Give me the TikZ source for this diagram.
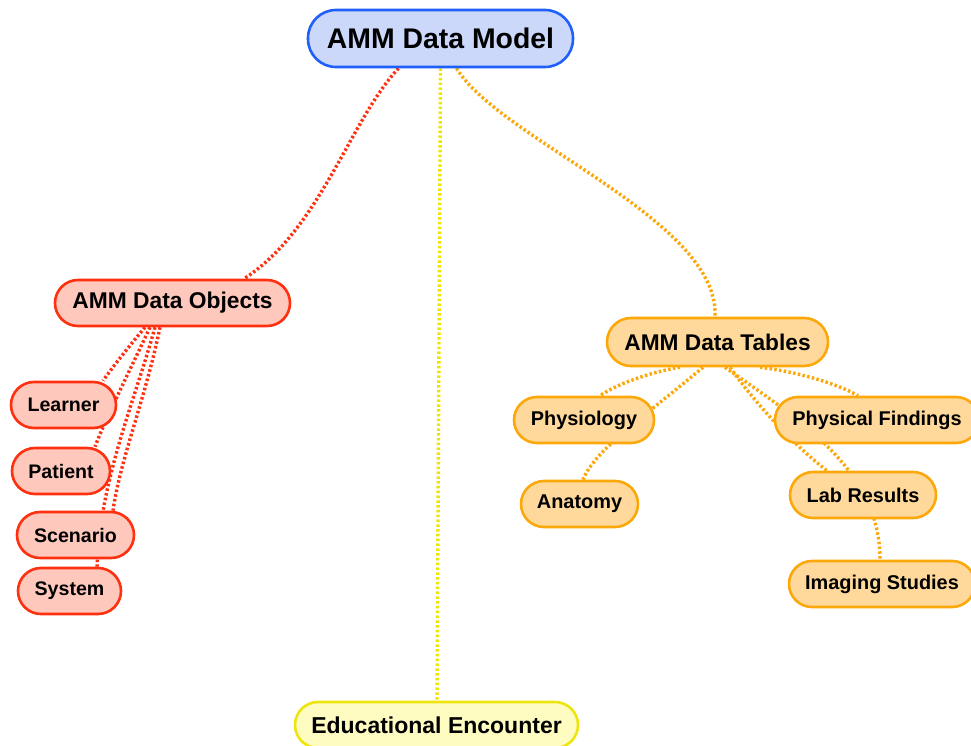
\documentclass[tikz,border=0pt]{standalone}
\usepackage{fontspec}
\setmainfont{Liberation Sans}
\usetikzlibrary{backgrounds}
\definecolor{bluebd}{HTML}{1F5FFA}
\definecolor{bluefl}{HTML}{CBD8FA}
\definecolor{redbd}{HTML}{FF3010}
\definecolor{redfl}{HTML}{FFC8BC}
\definecolor{orabd}{HTML}{FCA80A}
\definecolor{orafl}{HTML}{FFD99B}
\definecolor{yelbd}{HTML}{EEE40E}
\definecolor{yelfl}{HTML}{FFFCC2}
\definecolor{yelln}{HTML}{EEE600}
\tikzset{
  pill/.style={draw, line width=2.6pt, rounded corners=#1, inner sep=0pt, font=\bfseries},
  toppill/.style={pill=28pt, draw=bluebd, fill=bluefl, minimum height=57pt, font=\bfseries\fontsize{28.4}{30}\selectfont},
  redbig/.style={pill=23pt, draw=redbd, fill=redfl, minimum height=46pt, font=\bfseries\fontsize{22.8}{26}\selectfont},
  redsm/.style={pill=23pt, draw=redbd, fill=redfl, minimum height=46pt, font=\bfseries\fontsize{19.6}{22}\selectfont},
  orabig/.style={pill=24pt, draw=orabd, fill=orafl, minimum height=48pt, font=\bfseries\fontsize{22.7}{26}\selectfont},
  orasm/.style={pill=23pt, draw=orabd, fill=orafl, minimum height=46pt, font=\bfseries\fontsize{19.9}{22}\selectfont},
  yelbig/.style={pill=23pt, draw=yelbd, fill=yelfl, minimum height=46pt, font=\bfseries\fontsize{23}{26}\selectfont},
  link/.style={line width=3.4pt, dash pattern=on 2.5pt off 2.3pt},
  redlink/.style={link, draw=redbd},
  oralink/.style={link, draw=orabd},
  yellink/.style={link, draw=yelln},
}
\begin{document}
\begin{tikzpicture}[x=1pt,y=-1pt]
\useasboundingbox (0,0) rectangle (971,746);
\node[toppill, minimum width=265pt] (model) at (440.5,38.5) {AMM Data Model};
\node[redbig, minimum width=235pt] (objects) at (172.5,303) {AMM Data Objects};
\node[redsm, minimum width=105pt] (learner) at (63.5,405) {Learner};
\node[redsm, minimum width=98pt] (patient) at (61,471) {Patient};
\node[redsm, minimum width=117pt] (scenario) at (75.5,535) {Scenario};
\node[redsm, minimum width=103pt] (system) at (69.5,591) {System};
\node[orabig, minimum width=221pt] (tables) at (717.5,342) {AMM Data Tables};
\node[orasm, minimum width=140pt] (physio) at (584,420) {Physiology};
\node[orasm, minimum width=117pt] (anatomy) at (579.5,504) {Anatomy};
\node[orasm, minimum width=204pt] (physfind) at (877,420) {Physical Findings};
\node[orasm, minimum width=146pt] (lab) at (863,495) {Lab Results};
\node[orasm, minimum width=186pt] (imaging) at (882,584) {Imaging Studies};
\node[yelbig, minimum width=283pt] (edu) at (436.5,725) {Educational Encounter};
\begin{scope}[on background layer]
\draw[redlink] ([xshift=-42pt]model.south) .. controls (350,120) and (320,230) .. ([xshift=71.5pt]objects.north);
\draw[oralink] ([xshift=16pt]model.south) .. controls (500,140) and (720,220) .. ([xshift=-2.5pt]tables.north);
\draw[yellink] (model.south) -- ([xshift=0.5pt]edu.north);
\draw[redlink] ([xshift=-27.5pt]objects.south) .. controls (130,345) and (112,368) .. ([xshift=39.5pt]learner.north);
\draw[redlink] ([xshift=-22.5pt]objects.south) .. controls (130,370) and (105,420) .. ([xshift=34pt]patient.north);
\draw[redlink] ([xshift=-12.5pt]objects.south) .. controls (145,400) and (120,460) .. ([xshift=37.5pt]scenario.north);
\draw[redlink] ([xshift=-17.5pt]objects.south) .. controls (135,400) and (100,480) .. ([xshift=27.5pt]system.north);
\draw[oralink] ([xshift=-37.5pt]tables.south) .. controls (650,372) and (615,385) .. ([xshift=16pt]physio.north);
\draw[oralink] ([xshift=-14.5pt]tables.south) .. controls (640,420) and (595,450) .. ([xshift=3.5pt]anatomy.north);
\draw[oralink] ([xshift=42.5pt]tables.south) .. controls (800,372) and (840,385) .. ([xshift=-19pt]physfind.north);
\draw[oralink] ([xshift=12.5pt]tables.south) .. controls (760,410) and (800,450) .. ([xshift=-36pt]lab.north);
\draw[oralink] ([xshift=7.5pt]tables.south) .. controls (800,420) and (880,470) .. ([xshift=-2pt]imaging.north);
\end{scope}
\end{tikzpicture}
\end{document}
